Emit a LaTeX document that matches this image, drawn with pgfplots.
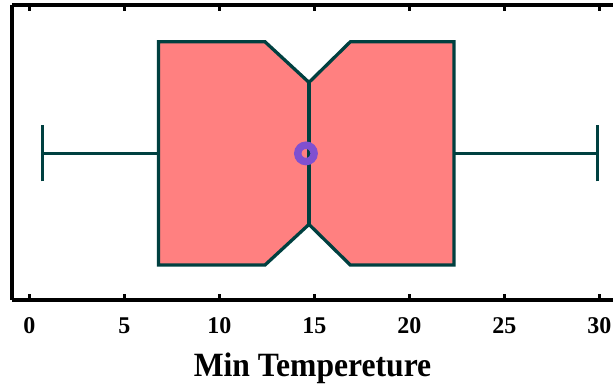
\documentclass[border=0pt]{standalone}
\usepackage{fontspec}
\setmainfont{Liberation Serif}
\usepackage{pgfplots}
\pgfplotsset{compat=1.18}
\definecolor{edge}{RGB}{0,64,64}
\definecolor{boxfill}{RGB}{255,128,128}
\definecolor{meanc}{RGB}{128,80,208}
\begin{document}
\begin{tikzpicture}
\begin{axis}[
  scale only axis,
  width=601pt, height=295pt,
  xmin=-0.91, xmax=30.72,
  ymin=-146.6, ymax=148.4,
  axis x line=box,
  axis y line=left,
  axis line style={line width=3.5pt, black, -},
  ytick=\empty,
  xtick={0,5,10,15,20,25,30},
  xticklabel pos=bottom,
  tick align=inside,
  major tick length=6pt,
  tick style={line width=2.5pt, black},
  /pgf/number format/assume math mode=true,
  xticklabel style={font=\fontsize{24}{24}\selectfont\bfseries, yshift=-14pt},
  xlabel={\scalebox{0.93}[1]{\fontsize{34}{34}\selectfont\bfseries Min Tempereture}},
  xlabel style={yshift=-12pt},
  clip=false,
]
% notched box
\addplot[fill=boxfill, draw=edge, line width=3.3pt, line join=miter] coordinates {
  (6.8,-111.7) (6.8,111.7) (12.4,111.7) (14.72,71) (16.9,111.7)
  (22.35,111.7) (22.35,-111.7) (16.9,-111.7) (14.72,-71) (12.4,-111.7)
} -- cycle;
% whiskers
\addplot[draw=edge, line width=3.2pt] coordinates {(0.71,0) (6.8,0)};
\addplot[draw=edge, line width=3.2pt] coordinates {(22.35,0) (29.9,0)};
\addplot[draw=edge, line width=3.2pt] coordinates {(0.71,-28) (0.71,28)};
\addplot[draw=edge, line width=3.2pt] coordinates {(29.9,-28) (29.9,28)};
% mean
\addplot[only marks, mark=o, mark size=8.2pt, mark options={draw=meanc, line width=7.4pt}] coordinates {(14.56,0)};
% median
\addplot[draw=edge, line width=3.3pt] coordinates {(14.72,-71) (14.72,71)};
\end{axis}
\pgfresetboundingbox
\path[use as bounding box] (current axis.north west) ++(-12pt,5pt) rectangle ++(613pt,-387pt);
\end{tikzpicture}
\end{document}
